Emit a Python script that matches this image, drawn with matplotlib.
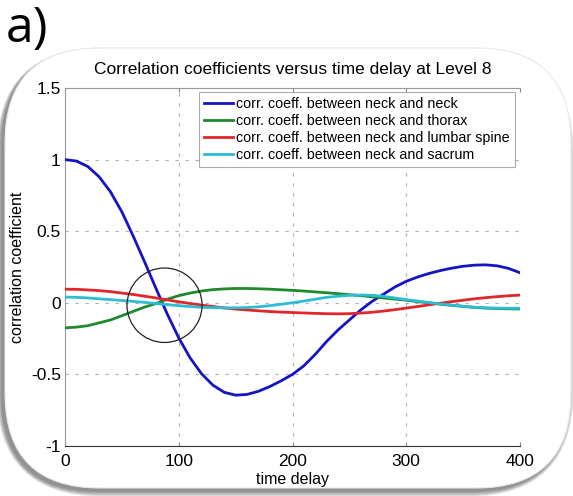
import numpy as np
import matplotlib
matplotlib.use("Agg")
import matplotlib.pyplot as plt
from matplotlib.patches import Ellipse, FancyBboxPatch
from matplotlib.transforms import IdentityTransform

# time delay samples
delay = list(range(0, 401, 10))

# correlation coefficients
neck_neck = [1.00, 0.99, 0.952, 0.88, 0.775, 0.635, 0.465, 0.285, 0.10, -0.08,
             -0.245, -0.385, -0.495, -0.575, -0.625, -0.645, -0.64, -0.618, -0.585, -0.545,
             -0.50, -0.44, -0.36, -0.27, -0.19, -0.12, -0.05, 0.01, 0.06, 0.11,
             0.15, 0.18, 0.205, 0.225, 0.242, 0.255, 0.263, 0.265, 0.258, 0.24,
             0.21]
neck_thorax = [-0.175, -0.17, -0.16, -0.14, -0.12, -0.09, -0.06, -0.03, -0.005, 0.025,
               0.05, 0.068, 0.082, 0.092, 0.097, 0.10, 0.10, 0.098, 0.095, 0.091,
               0.087, 0.082, 0.076, 0.07, 0.064, 0.057, 0.05, 0.042, 0.034, 0.026,
               0.018, 0.008, 0.0, -0.01, -0.018, -0.025, -0.032, -0.037, -0.04, -0.042,
               -0.043]
neck_lumbar = [0.095, 0.094, 0.09, 0.085, 0.078, 0.068, 0.058, 0.046, 0.034, 0.02,
               0.007, -0.005, -0.016, -0.026, -0.036, -0.044, -0.05, -0.056, -0.061, -0.065,
               -0.068, -0.071, -0.074, -0.076, -0.077, -0.076, -0.072, -0.066, -0.058, -0.048,
               -0.037, -0.026, -0.014, -0.003, 0.008, 0.018, 0.028, 0.036, 0.043, 0.049,
               0.054]
neck_sacrum = [0.04, 0.038, 0.034, 0.028, 0.022, 0.016, 0.01, 0.003, -0.005, -0.013,
               -0.02, -0.026, -0.031, -0.034, -0.035, -0.035, -0.033, -0.028, -0.02, -0.01,
               0.0, 0.012, 0.025, 0.038, 0.046, 0.052, 0.054, 0.052, 0.045, 0.034,
               0.022, 0.012, 0.002, -0.008, -0.016, -0.024, -0.031, -0.035, -0.037, -0.038,
               -0.038]

labels = ["corr. coeff. between neck and neck",
          "corr. coeff. between neck and thorax",
          "corr. coeff. between neck and lumbar spine",
          "corr. coeff. between neck and sacrum"]
colors = ["#1414c4", "#1e8a2c", "#e0262a", "#2cbcd4"]

plt.rcParams["font.family"] = ["Liberation Sans", "DejaVu Sans"]

W, H = 573, 496
fig = plt.figure(figsize=(W / 100, H / 100), dpi=100)

# photo-like rounded frame with a soft shadow (behind the axes)
for i in range(12, 0, -1):
    sh = FancyBboxPatch((5 - 3 - i * 0.5, 8 - 3 - i * 0.5), 566 + i * 1.0, 440 + i * 0.8,
                        boxstyle="round,pad=0,rounding_size=%d" % (95 + i),
                        transform=IdentityTransform(), facecolor="#000000",
                        edgecolor="none", alpha=0.045, zorder=-3)
    fig.add_artist(sh)
frame = FancyBboxPatch((5, 8), 566, 440, boxstyle="round,pad=0,rounding_size=95",
                       transform=IdentityTransform(), facecolor="white",
                       edgecolor="#e8e8e8", linewidth=0.8, zorder=-2)
fig.add_artist(frame)

fig.text(6 / W, 0.99, "a)", fontsize=36, family=["Open Sans", "DejaVu Sans"],
         va="top", ha="left")

ax = fig.add_axes([65 / W, 1 - 446 / H, 455 / W, 358 / H])
ax.set_facecolor("none")

series = [neck_neck, neck_thorax, neck_lumbar, neck_sacrum]
for vals, c, lab in zip(series, colors, labels):
    ax.plot(delay, vals, color=c, lw=2.0, label=lab, zorder=3)

# circle marking the crossing point
ax.add_patch(Ellipse((87.5, -0.017), 66, 0.52, fill=False, ec="#222222", lw=0.9, zorder=4))

ax.set_xlim(0, 400)
ax.set_ylim(-1, 1.5)
ax.set_xticks([0, 100, 200, 300, 400])
ax.set_yticks([-1, -0.5, 0, 0.5, 1, 1.5])
ax.set_yticklabels(["-1", "-0.5", "0", "0.5", "1", "1.5"])
ax.grid(True, color="#b0b0b0", linestyle=(0, (3, 6)), lw=0.8)
ax.tick_params(axis="both", labelsize=12.5, length=0)
ax.tick_params(axis="y", pad=3)
ax.tick_params(axis="x", top=True, direction="in", length=3, color="#888888", pad=6)
ax.spines["right"].set_visible(False)
ax.spines["top"].set_color("#999999")
ax.spines["left"].set_color("#999999")
ax.spines["bottom"].set_color("#333333")

ax.set_title("Correlation coefficients versus time delay at Level 8", fontsize=12.5, pad=10)
ax.set_xlabel("time delay", fontsize=11.5, labelpad=2)
ax.set_ylabel("correlation coefficient", fontsize=11.5, labelpad=4)

leg = ax.legend(loc="upper right", bbox_to_anchor=(0.989, 0.99), borderaxespad=0,
                fontsize=10.3, handlelength=2.0, handletextpad=0.25, labelspacing=0.22,
                borderpad=0.35, fancybox=False, framealpha=1, edgecolor="#aaaaaa")
leg.get_frame().set_linewidth(0.8)

fig.savefig("out.png", dpi=100)
